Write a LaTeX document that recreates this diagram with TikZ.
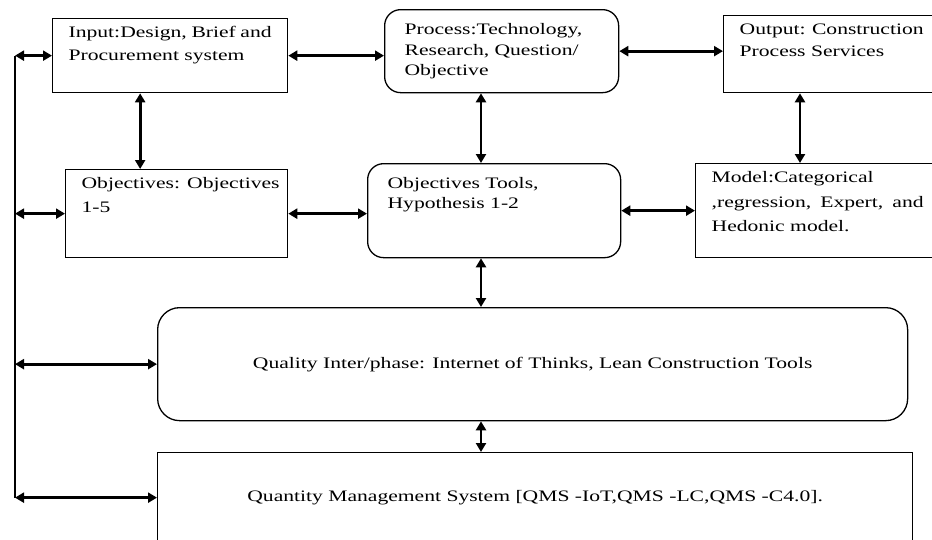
\documentclass[tikz,border=0pt]{standalone}
\usepackage{fontspec}
\setmainfont[FakeStretch=1.35]{Liberation Serif}
\usetikzlibrary{arrows.meta}
\def\boxtext(#1:#2:#3)#4{\parbox[c][#2][t]{#1}{\hyphenpenalty=10000\setlength{\baselineskip}{#3}\rule{0pt}{11pt}#4}}

\begin{document}
\begin{tikzpicture}[x=1pt, y=-1pt,
	sqbox/.style={draw, line width=1.3pt, anchor=north west, inner xsep=16pt, inner ysep=8pt, font=\fontsize{16}{23}\selectfont},
	rdbox/.style={sqbox, rounded corners=16pt, inner xsep=20pt, inner ysep=14pt},
	dbl/.style={{Triangle[length=9pt,width=10pt]}-{Triangle[length=9pt,width=10pt]}, line width=2.8pt},
	busline/.style={line width=2.8pt}]
			%%%%% START %%%%%
			\useasboundingbox (0,0) rectangle (932,539);
			\clip (0,0) rectangle (932,539);
			
			\coordinate (bus) at (15,0);
			\coordinate (mid) at (481,0);
			\coordinate (rgt) at (800,0);
			
			% top row
			\node[sqbox] (input) at (52,18) {\boxtext(203pt:58pt:23pt){Input:Design, Brief and\\Procurement system}};
			\node[rdbox] (process) at (384,9) {\boxtext(194pt:55pt:20.5pt){Process:Technology,\\Research, Question/\\Objective}};
			\node[sqbox] (output) at (723,15) {\boxtext(184pt:61pt:22pt){Output:\hfill Construction\\Process Services}};
			
			% middle row
			\node[sqbox] (obj) at (65,169) {\boxtext(190pt:72pt:24pt){\mbox{Objectives: Objectives}\\1-5}};
			\node[rdbox] (tools) at (367,163) {\boxtext(213pt:66pt:20pt){Objectives Tools,\\Hypothesis 1-2}};
			\node[sqbox] (model) at (695,163) {\boxtext(212pt:78pt:24.5pt){Model:Categorical\\,regression,\hfill Expert,\hfill and\\Hedonic model.}};
			
			% bottom rows
			\node[rdbox, rounded corners=22pt, minimum width=750pt, minimum height=113pt] (quality) at (157,307) {Quality Inter/phase: Internet of Thinks, Lean Construction Tools};
			\node[sqbox, minimum width=755pt, minimum height=90pt] (qms) at (157,452) {Quantity Management System [QMS -IoT,QMS -LC,QMS -C4.0].};
			
			% links between boxes
			\draw[dbl] (input.east) -- (input.east -| process.west);
			\draw[dbl] (process.east) -- (process.east -| output.west);
			\draw[dbl] ([xshift=-30pt]input.south) -- ([xshift=-30pt]input.south |- obj.north);
			\draw[dbl] (process.south -| mid) -- (tools.north -| mid);
			\draw[dbl] (output.south -| rgt) -- (model.north -| rgt);
			\draw[dbl] (obj.east) -- (obj.east -| tools.west);
			\draw[dbl] (tools.east) -- (tools.east -| model.west);
			\draw[dbl] (tools.south -| mid) -- (quality.north -| mid);
			\draw[dbl] (quality.south -| mid) -- (qms.north -| mid);
			
			% feedback bus on the left
			\draw[busline] (input.west -| bus) -- (qms.west -| bus);
			\draw[dbl] (input.west -| bus) -- (input.west);
			\draw[dbl] (obj.west -| bus) -- (obj.west);
			\draw[dbl] (quality.west -| bus) -- (quality.west);
			\draw[dbl] (qms.west -| bus) -- (qms.west);
			%%%%% END %%%%%
\end{tikzpicture}
\end{document}
